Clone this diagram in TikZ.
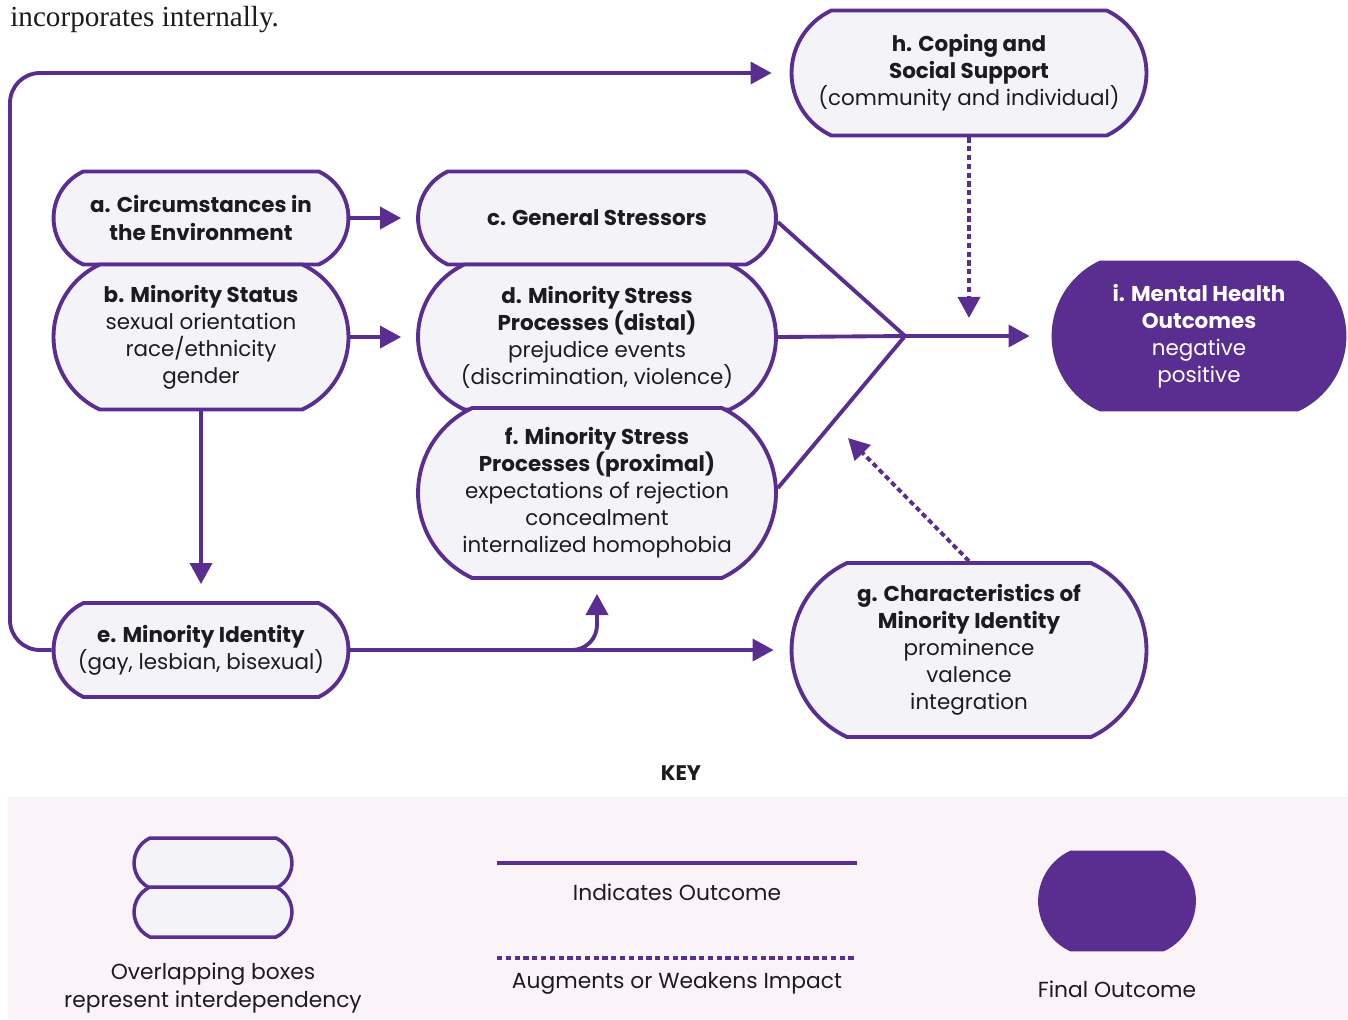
\documentclass[tikz,border=0pt]{standalone}
\usepackage{fontspec}
\setmainfont{Poppins}
\newfontfamily\captionserif{Liberation Serif}
\usetikzlibrary{shapes.misc, arrows.meta, positioning}
\definecolor{msPurple}{RGB}{90, 45, 145}
\definecolor{msFill}{RGB}{244, 243, 248}
\definecolor{msKey}{RGB}{250, 243, 248}
\definecolor{msText}{RGB}{28, 28, 30}

\begin{document}
\begin{tikzpicture}[
        x=0.02cm, y=-0.02cm,
        box/.style={rounded rectangle, rounded rectangle arc length=130, draw=msPurple, line width=2.2pt, fill=msFill, align=center, text=msText, inner sep=2pt, font=\fontsize{12.2}{15.4}\selectfont},
        final/.style={box, fill=msPurple, text=white},
        arrow/.style={-{Triangle[length=12pt, width=12.5pt]}, line width=2.2pt, msPurple},
        dotarrow/.style={arrow, dash pattern=on 3pt off 2pt},
        keytext/.style={font=\fontsize{12.4}{15.5}\selectfont, text=msText, align=center}
    ]
        \useasboundingbox (0,0) rectangle (1348,1019);

        % Caption fragment
        \node[anchor=west, inner sep=0pt, font=\captionserif\fontsize{16.6}{19}\selectfont, text=msText] (cap) at (10,20) {incorporates internally.};

        % Left column
        \node[box, minimum width=6.04cm, minimum height=1.86cm] (a) at (201,218) {\textbf{a. Circumstances in}\\\textbf{the Environment}};
        \node[box, minimum width=6.04cm, minimum height=2.9cm] (b) at (201,337) {\textbf{b. Minority Status}\\sexual orientation\\race/ethnicity\\gender};
        \node[box, minimum width=6.04cm, minimum height=1.88cm] (e) at (201,650) {\textbf{e. Minority Identity}\\(gay, lesbian, bisexual)};

        % Stress processes
        \node[box, minimum width=7.3cm, minimum height=1.86cm] (c) at (597,218) {\textbf{c. General Stressors}};
        \node[box, minimum width=7.3cm, minimum height=2.9cm] (d) at (597,337) {\textbf{d. Minority Stress}\\\textbf{Processes (distal)}\\prejudice events\\(discrimination, violence)};
        \node[box, minimum width=7.3cm, minimum height=3.4cm] (f) at (597,493) {\textbf{f. Minority Stress}\\\textbf{Processes (proximal)}\\expectations of rejection\\concealment\\internalized homophobia};

        % Moderators and outcome
        \node[box, minimum width=7.24cm, minimum height=2.5cm] (h) at (969,73) {\textbf{h. Coping and}\\\textbf{Social Support}\\(community and individual)};
        \node[box, minimum width=7.24cm, minimum height=3.48cm] (g) at (969,650) {\textbf{g. Characteristics of}\\\textbf{Minority Identity}\\prominence\\valence\\integration};
        \node[final, minimum width=5.96cm, minimum height=2.94cm] (i) at (1199,336) {\textbf{i. Mental Health}\\\textbf{Outcomes}\\negative\\positive};

        \coordinate (hub) at (905,336);
        \coordinate (hsink) at (969,318);
        \coordinate (gsink) at (848,438);

        \draw[arrow] (a.east) -- ([xshift=-0.3cm]a.east -| c.west);
        \draw[arrow] (b.east) -- ([xshift=-0.3cm]b.east -| d.west);
        \draw[arrow] (b.south) -- ([yshift=0.34cm]e.north);
        \draw[arrow] (e.east) -- ([xshift=-0.32cm]e.east -| g.west);
        \draw[arrow, rounded corners=0.5cm] (e.east) -| ([yshift=-0.28cm]f.south);
        \draw[arrow, rounded corners=0.6cm] (e.west) -| (10,73) -- ([xshift=-0.36cm]h.west);

        \draw[line width=2.2pt, msPurple] ([yshift=-0.08cm]c.east) -- (hub);
        \draw[line width=2.2pt, msPurple] (d.east) -- (hub);
        \draw[line width=2.2pt, msPurple] ([yshift=0.1cm]f.east) -- (hub);
        \draw[arrow] (hub) -- ([xshift=-0.44cm]i.west);

        \draw[dotarrow] (h.south) -- (hsink);
        \draw[dotarrow] (g.north) -- (gsink);

        % Key
        \node[font=\fontsize{12}{14}\selectfont\bfseries, text=msText] (key) at (681,773) {KEY};
        \fill[msKey] (8,797) rectangle (1348,1019);

        \node[box, line width=2pt, minimum width=3.3cm, minimum height=1cm] (ov1) at (213,863) {};
        \node[box, line width=2pt, minimum width=3.3cm, minimum height=1cm] (ov2) at (213,912) {};
        \node[keytext] (ovtext) at (213,988) {Overlapping boxes\\represent interdependency};

        \coordinate (solidL) at (497,863);
        \coordinate (solidR) at (857,863);
        \draw[line width=2.6pt, msPurple] (solidL) -- (solidR);
        \node[keytext] (soltext) at (677,892) {Indicates Outcome};

        \coordinate (dotL) at (497,958);
        \coordinate (dotR) at (857,958);
        \draw[line width=2.6pt, msPurple, dash pattern=on 3pt off 2pt] (dotL) -- (dotR);
        \node[keytext] (dottext) at (677,983) {Augments or Weakens Impact};

        \node[final, minimum width=3.22cm, minimum height=1.94cm] (fin) at (1117,901) {};
        \node[keytext] (fintext) at (1117,989) {Final Outcome};
    \end{tikzpicture}
\end{document}
